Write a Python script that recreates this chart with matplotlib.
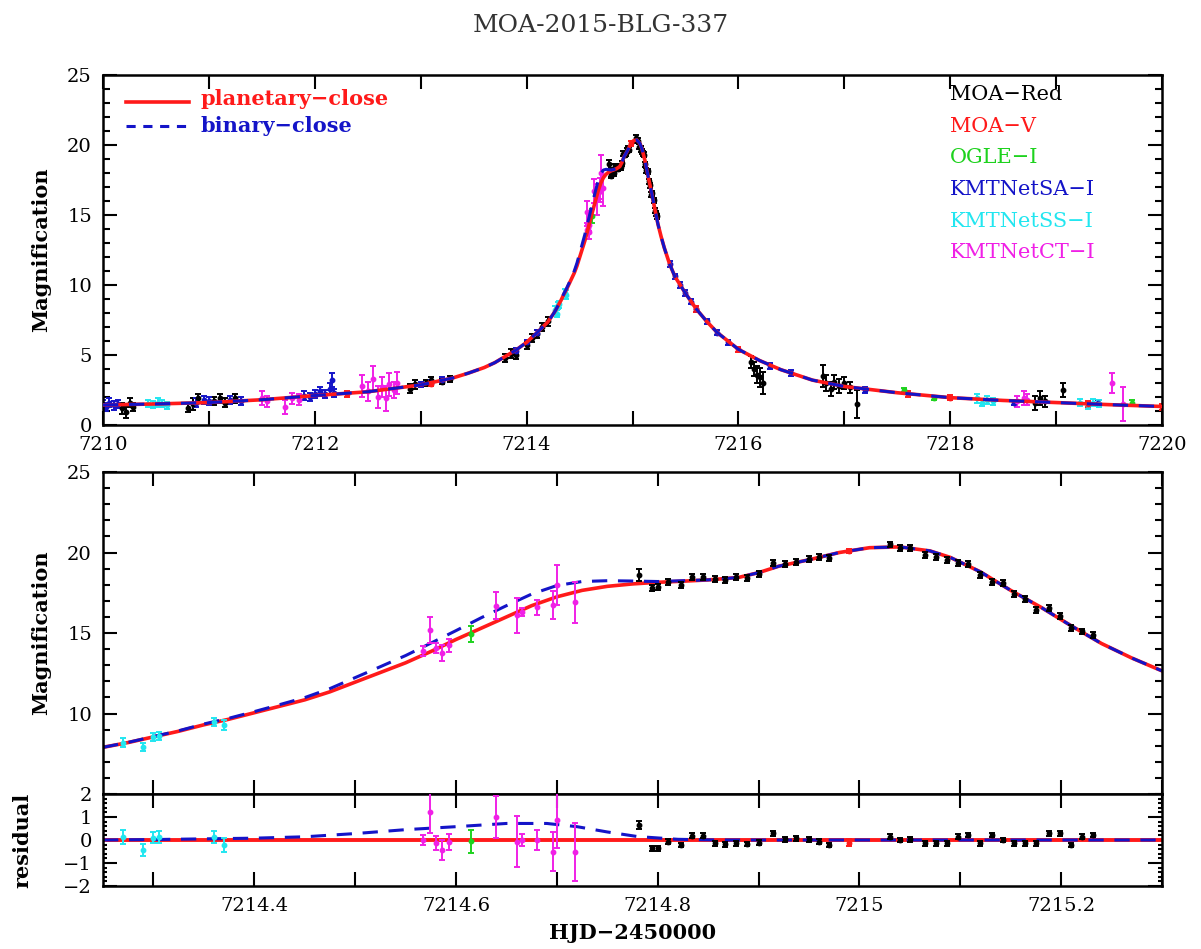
import numpy as np
import matplotlib.pyplot as plt
from matplotlib.ticker import MultipleLocator, FuncFormatter, FixedLocator

plt.rcParams['font.family'] = ['DejaVu Serif']
plt.rcParams['axes.unicode_minus'] = True

# ---------------- model curves ----------------
# left wing of the event (7210 - 7214.2)
model_left_t = [7210.0, 7210.5, 7211.0, 7211.5, 7212.0, 7212.5, 7213.0, 7213.3, 7213.45,
                7213.6, 7213.7, 7213.8, 7213.9, 7214.0, 7214.1, 7214.2]
model_left_A = [1.43, 1.5, 1.6, 1.8, 2.1, 2.37, 2.86, 3.35, 3.7, 4.1, 4.45, 4.9, 5.35, 5.9,
                6.6, 7.35]

# zoomed window (7214.25 - 7215.3)
model_win_t = [7214.25, 7214.275, 7214.30, 7214.325, 7214.35, 7214.375, 7214.40, 7214.425,
               7214.45, 7214.475, 7214.50, 7214.525, 7214.55, 7214.575, 7214.60, 7214.625,
               7214.65, 7214.675, 7214.70, 7214.725, 7214.75, 7214.775, 7214.80, 7214.825,
               7214.85, 7214.88, 7214.90, 7214.92, 7214.95, 7214.98, 7215.01, 7215.04,
               7215.07, 7215.09, 7215.12, 7215.15, 7215.18, 7215.21, 7215.24, 7215.27, 7215.30]
planet_win_A = [7.9, 8.2, 8.55, 8.9, 9.3, 9.65, 10.05, 10.45, 10.85, 11.35, 11.95, 12.55,
                13.15, 13.85, 14.6, 15.3, 16.0, 16.7, 17.25, 17.65, 17.9, 18.05, 18.15, 18.22,
                18.3, 18.45, 18.75, 19.15, 19.55, 20.0, 20.3, 20.35, 20.1, 19.7, 18.8, 17.65,
                16.6, 15.45, 14.35, 13.45, 12.65]
binary_win_A = [7.9, 8.21, 8.57, 8.93, 9.35, 9.71, 10.12, 10.55, 10.99, 11.55, 12.23, 12.91,
                13.6, 14.37, 15.15, 15.95, 16.7, 17.42, 17.95, 18.2, 18.25, 18.23, 18.2, 18.25,
                18.3, 18.45, 18.75, 19.15, 19.55, 20.0, 20.3, 20.35, 20.1, 19.7, 18.8, 17.65,
                16.6, 15.45, 14.35, 13.45, 12.65]

# right wing (7215.35 - 7220)
model_right_t = [7215.35, 7215.4, 7215.5, 7215.6, 7215.7, 7215.8, 7216.0, 7216.2, 7216.4,
                 7216.7, 7217.0, 7217.5, 7218.0, 7218.5, 7219.0, 7219.5, 7220.0]
model_right_A = [11.5, 10.6, 9.4, 8.3, 7.4, 6.6, 5.4, 4.6, 3.95, 3.2, 2.75, 2.3, 1.95, 1.75,
                 1.6, 1.45, 1.32]

# binary-close minus planetary-close (residual panel)
res_binary_t = [7214.25, 7214.30, 7214.35, 7214.40, 7214.45, 7214.50, 7214.55, 7214.60,
                7214.65, 7214.69, 7214.72, 7214.75, 7214.78, 7214.82, 7214.86, 7215.30]
res_binary = [0.0, 0.02, 0.05, 0.08, 0.14, 0.28, 0.45, 0.58, 0.72, 0.72, 0.58, 0.35, 0.15,
              0.03, 0.0, 0.0]

# ---------------- data inside the zoomed window ----------------
moa_red_win_t = [7214.781, 7214.794, 7214.80, 7214.81, 7214.823, 7214.834, 7214.845, 7214.857,
                 7214.867, 7214.878, 7214.889, 7214.90, 7214.914, 7214.926, 7214.937, 7214.95,
                 7214.96, 7214.97, 7215.03, 7215.04, 7215.05, 7215.065, 7215.076, 7215.087,
                 7215.098, 7215.108, 7215.12, 7215.131, 7215.142, 7215.153, 7215.164, 7215.175,
                 7215.188, 7215.199, 7215.21, 7215.221, 7215.232]
moa_red_win_A = [18.6, 17.8, 17.85, 18.17, 17.98, 18.48, 18.48, 18.35, 18.3, 18.48, 18.4, 18.67,
                 19.35, 19.28, 19.4, 19.6, 19.7, 19.66, 20.5, 20.3, 20.28, 19.85, 19.7, 19.53,
                 19.35, 19.28, 18.6, 18.17, 18.1, 17.4, 17.1, 16.43, 16.55, 16.05, 15.3, 15.1,
                 14.9]
moa_red_win_e = [0.35] + [0.18] * 36
moa_red_win_r = [0.65, -0.36, -0.36, -0.07, -0.21, 0.19, 0.19, -0.14, -0.19, -0.14, -0.17,
                 -0.11, 0.29, 0.03, 0.07, 0.03, -0.07, -0.21, 0.14, 0.0, 0.03, -0.14, -0.14,
                 -0.14, 0.14, 0.21, -0.14, 0.21, 0.0, -0.14, -0.14, -0.14, 0.29, 0.29, -0.21,
                 0.14, 0.21]
moa_red_win_re = [0.17] + [0.1] * 36

moa_v_win_t = [7214.99]
moa_v_win_A = [20.1]
moa_v_win_e = [0.15]
moa_v_win_r = [-0.11]
moa_v_win_re = [0.15]

ogle_win_t = [7214.615]
ogle_win_A = [14.95]
ogle_win_e = [0.5]
ogle_win_r = [-0.05]
ogle_win_re = [0.5]

kss_win_t = [7214.27, 7214.29, 7214.30, 7214.305, 7214.36, 7214.37]
kss_win_A = [8.2, 7.95, 8.55, 8.6, 9.45, 9.3]
kss_win_e = [0.3, 0.25, 0.25, 0.25, 0.25, 0.3]
kss_win_r = [0.14, -0.43, 0.1, 0.14, 0.14, -0.22]
kss_win_re = [0.3, 0.25, 0.25, 0.25, 0.25, 0.3]

kct_win_t = [7214.567, 7214.574, 7214.58, 7214.586, 7214.593, 7214.64, 7214.66, 7214.665,
             7214.68, 7214.696, 7214.70, 7214.718]
kct_win_A = [13.9, 15.2, 14.05, 13.75, 14.25, 16.7, 16.1, 16.3, 16.6, 16.75, 18.0, 16.9]
kct_win_e = [0.3, 0.8, 0.3, 0.5, 0.4, 0.85, 1.1, 0.25, 0.45, 0.85, 1.25, 1.3]
kct_win_r = [0.0, 1.2, -0.14, -0.43, -0.07, 1.0, -0.07, 0.0, 0.0, -0.5, 0.86, -0.53]
kct_win_re = [0.2, 0.9, 0.3, 0.45, 0.35, 0.9, 1.1, 0.25, 0.43, 0.85, 1.2, 1.25]

# ---------------- data outside the window (top panel only) ----------------
moa_red_t = [7210.18, 7210.22, 7210.25, 7210.28, 7210.80, 7210.85, 7210.90, 7211.05, 7211.10,
             7211.15, 7211.25, 7212.90, 7212.95, 7213.05, 7213.10, 7213.20, 7213.28, 7213.80,
             7213.85, 7213.90, 7214.00, 7214.05, 7214.10, 7214.15, 7214.20, 7216.12, 7216.15,
             7216.18, 7216.20, 7216.23, 7216.80, 7216.83, 7216.87, 7216.90, 7216.95, 7217.00,
             7217.05, 7217.12, 7218.80, 7218.85, 7218.90, 7219.07]
moa_red_A = [1.2, 0.9, 1.6, 1.3, 1.2, 1.5, 1.9, 1.7, 1.9, 1.6, 1.9, 2.6, 2.9, 3.0, 3.2, 3.1,
             3.3, 4.8, 5.1, 5.0, 5.7, 6.2, 6.5, 7.0, 7.4, 4.5, 4.0, 3.6, 3.4, 3.0, 3.5, 3.0,
             2.6, 3.1, 2.8, 3.0, 2.7, 1.5, 1.6, 1.9, 1.7, 2.5]
moa_red_e = [0.4, 0.4, 0.3, 0.3, 0.3, 0.4, 0.3, 0.3, 0.3, 0.3, 0.3, 0.3, 0.3, 0.2, 0.2, 0.2,
             0.2, 0.3, 0.3, 0.3, 0.3, 0.3, 0.3, 0.3, 0.3, 0.4, 0.5, 0.6, 0.7, 0.8, 0.8, 0.6,
             0.5, 0.5, 0.5, 0.4, 0.4, 1.0, 0.5, 0.5, 0.4, 0.5]

moa_v_t = [7212.3, 7213.1, 7215.6, 7216.0, 7217.6, 7218.0, 7219.3, 7220.0]
moa_v_A = [2.2, 2.95, 8.3, 5.4, 2.2, 1.95, 1.5, 1.3]
moa_v_e = [0.2, 0.2, 0.2, 0.2, 0.2, 0.2, 0.2, 0.2]

ogle_t = [7217.56, 7217.85, 7219.72]
ogle_A = [2.5, 1.95, 1.6]
ogle_e = [0.15, 0.15, 0.15]

ksa_t = [7210.0, 7210.03, 7210.06, 7210.1, 7210.14, 7210.88, 7210.95, 7211.0, 7211.2, 7211.3,
         7211.9, 7211.95, 7212.0, 7212.05, 7212.1, 7212.14, 7212.16, 7212.18, 7213.0, 7213.1,
         7213.2, 7213.9, 7214.0, 7214.1, 7215.35, 7215.4, 7215.45, 7215.5, 7215.55, 7215.6,
         7215.7, 7215.8, 7215.9, 7216.3, 7216.5, 7217.2, 7218.6, 7219.4]
ksa_A = [1.45, 1.3, 1.6, 1.4, 1.5, 1.6, 1.8, 1.7, 1.8, 1.7, 2.1, 2.0, 2.2, 2.4, 2.2, 2.6, 3.2,
         2.3, 2.9, 3.0, 3.2, 5.3, 5.9, 6.6, 11.5, 10.6, 10.0, 9.4, 8.8, 8.3, 7.4, 6.6, 5.9,
         4.2, 3.7, 2.5, 1.6, 1.55]
ksa_e = [0.3, 0.3, 0.3, 0.3, 0.3, 0.3, 0.3, 0.3, 0.3, 0.3, 0.3, 0.3, 0.3, 0.3, 0.3, 0.4, 0.5,
         0.3, 0.2, 0.2, 0.2, 0.2, 0.2, 0.2, 0.2, 0.2, 0.2, 0.2, 0.2, 0.2, 0.2, 0.2, 0.2, 0.2,
         0.2, 0.2, 0.2, 0.2]

kss_t = [7210.42, 7210.47, 7210.52, 7210.56, 7210.6, 7218.25, 7218.3, 7218.35, 7218.4,
         7219.23, 7219.3, 7219.35, 7219.41]
kss_A = [1.5, 1.45, 1.6, 1.5, 1.4, 1.9, 1.6, 1.8, 1.7, 1.6, 1.4, 1.6, 1.5]
kss_e = [0.25, 0.25, 0.3, 0.25, 0.25, 0.3, 0.25, 0.3, 0.25, 0.25, 0.25, 0.25, 0.25]

kct_t = [7211.5, 7211.55, 7211.72, 7211.78, 7211.85, 7212.45, 7212.5, 7212.55, 7212.6,
         7212.63, 7212.67, 7212.7, 7212.75, 7212.78, 7218.63, 7218.7, 7218.73, 7219.53, 7219.63]
kct_A = [1.9, 1.7, 1.3, 1.9, 1.8, 2.8, 2.4, 3.3, 2.0, 2.7, 1.9, 2.9, 2.5, 3.0, 1.7, 1.9, 1.8,
         3.0, 1.5]
kct_e = [0.5, 0.4, 0.5, 0.4, 0.4, 0.8, 0.7, 0.9, 0.8, 0.7, 0.9, 0.8, 0.6, 0.8, 0.4, 0.5, 0.4,
         0.7, 1.2]

# colours
c_black = 'black'
c_red = '#ff1a1a'
c_green = '#1ed21e'
c_blue = '#1414c8'
c_cyan = '#22e6f0'
c_mag = '#f020e6'
dash = (0, (5, 3.5))

fig = plt.figure(figsize=(12.01, 9.49), dpi=100)
ax1 = fig.add_axes([0.0858, 0.5522, 0.8817, 0.369])
ax2 = fig.add_axes([0.0858, 0.1633, 0.8817, 0.3393])
ax3 = fig.add_axes([0.0858, 0.0664, 0.8817, 0.0969])


def draw_points(ax, t, y, e, color, z=3):
    ax.errorbar(t, y, yerr=e, fmt='o', ms=3.2, color=color, ecolor=color,
                elinewidth=1.4, capsize=2.5, capthick=1.4, zorder=z)


# ---------- top panel ----------
draw_points(ax1, moa_red_t + moa_red_win_t, moa_red_A + moa_red_win_A, moa_red_e + moa_red_win_e, c_black, 2)
draw_points(ax1, ksa_t, ksa_A, ksa_e, c_blue, 2)
draw_points(ax1, kss_t + kss_win_t, kss_A + kss_win_A, kss_e + kss_win_e, c_cyan, 2)
draw_points(ax1, kct_t + kct_win_t, kct_A + kct_win_A, kct_e + kct_win_e, c_mag, 2)
draw_points(ax1, moa_v_t + moa_v_win_t, moa_v_A + moa_v_win_A, moa_v_e + moa_v_win_e, c_red, 2)
draw_points(ax1, ogle_t + ogle_win_t, ogle_A + ogle_win_A, ogle_e + ogle_win_e, c_green, 2)

planet_t = model_left_t + model_win_t + model_right_t
planet_A = model_left_A + planet_win_A + model_right_A
binary_A = model_left_A + binary_win_A + model_right_A
ax1.plot(planet_t, planet_A, color=c_red, lw=2.6, zorder=4)
ax1.plot(planet_t, binary_A, color=c_blue, lw=2.2, ls=dash, zorder=5)

ax1.set_xlim(7210, 7220)
ax1.set_ylim(0, 25)
ax1.xaxis.set_major_locator(MultipleLocator(1))
ax1.xaxis.set_major_formatter(FuncFormatter(lambda v, p: '%d' % round(v) if round(v) % 2 == 0 else ''))
ax1.yaxis.set_major_locator(MultipleLocator(5))
ax1.yaxis.set_minor_locator(MultipleLocator(1))
ax1.set_ylabel('Magnification', fontsize=15, fontweight='bold')
ax1.yaxis.set_label_coords(-0.049, 0.5)

# model legend
ax1.plot([0.022, 0.081], [0.923, 0.923], transform=ax1.transAxes, color=c_red, lw=2.6)
ax1.plot([0.022, 0.081], [0.854, 0.854], transform=ax1.transAxes, color=c_blue, lw=2.2, ls=(0, (3, 2.5)))
ax1.text(0.0925, 0.93, 'planetary\u2212close', transform=ax1.transAxes, color=c_red,
         fontsize=15, fontweight='bold', va='center')
ax1.text(0.0925, 0.855, 'binary\u2212close', transform=ax1.transAxes, color=c_blue,
         fontsize=15, fontweight='bold', va='center')

# data-set labels
set_names = ['MOA\u2212Red', 'MOA\u2212V', 'OGLE\u2212I', 'KMTNetSA\u2212I', 'KMTNetSS\u2212I', 'KMTNetCT\u2212I']
set_colors = [c_black, c_red, c_green, c_blue, c_cyan, c_mag]
for i, (name, col) in enumerate(zip(set_names, set_colors)):
    ax1.text(0.80, 0.943 - i * 0.0903, name, transform=ax1.transAxes, color=col,
             fontsize=15, va='center')

# ---------- middle panel ----------
ax2.plot(model_win_t, planet_win_A, color=c_red, lw=2.6, zorder=2)
ax2.plot(model_win_t, binary_win_A, color=c_blue, lw=2.2, ls=dash, zorder=2)
draw_points(ax2, moa_red_win_t, moa_red_win_A, moa_red_win_e, c_black)
draw_points(ax2, kss_win_t, kss_win_A, kss_win_e, c_cyan)
draw_points(ax2, kct_win_t, kct_win_A, kct_win_e, c_mag)
draw_points(ax2, ogle_win_t, ogle_win_A, ogle_win_e, c_green)
draw_points(ax2, moa_v_win_t, moa_v_win_A, moa_v_win_e, c_red)

ax2.set_xlim(7214.25, 7215.3)
ax2.set_ylim(5, 25)
ax2.yaxis.set_major_locator(FixedLocator([10, 15, 20, 25]))
ax2.yaxis.set_minor_locator(MultipleLocator(1))
ax2.set_ylabel('Magnification', fontsize=15, fontweight='bold')
ax2.yaxis.set_label_coords(-0.049, 0.5)
ax2.tick_params(axis='x', labelbottom=False)

# ---------- residual panel ----------
ax3.axhline(0, color=c_red, lw=2.8, zorder=2)
ax3.plot(res_binary_t, res_binary, color=c_blue, lw=2.2, ls=dash, zorder=2)
draw_points(ax3, moa_red_win_t, moa_red_win_r, moa_red_win_re, c_black)
draw_points(ax3, kss_win_t, kss_win_r, kss_win_re, c_cyan)
draw_points(ax3, kct_win_t, kct_win_r, kct_win_re, c_mag)
draw_points(ax3, ogle_win_t, ogle_win_r, ogle_win_re, c_green)
draw_points(ax3, moa_v_win_t, moa_v_win_r, moa_v_win_re, c_red)

ax3.set_xlim(7214.25, 7215.3)
ax3.set_ylim(-2, 2)
ax3.yaxis.set_major_locator(MultipleLocator(1))
ax3.yaxis.set_minor_locator(MultipleLocator(0.2))
ax3.set_ylabel('residual', fontsize=15, fontweight='bold')
ax3.yaxis.set_label_coords(-0.067, 0.5)
ax3.set_xlabel('HJD\u22122450000', fontsize=15, fontweight='bold', labelpad=6)

xt = [7214.3, 7214.4, 7214.5, 7214.6, 7214.7, 7214.8, 7214.9, 7215.0, 7215.1, 7215.2, 7215.3]
for ax in (ax2, ax3):
    ax.xaxis.set_major_locator(FixedLocator(xt))
ax3.xaxis.set_major_formatter(FuncFormatter(
    lambda v, p: ('%g' % round(v, 1)) if round(v * 10) % 2 == 0 else ''))

for ax in (ax1, ax2, ax3):
    ax.tick_params(which='both', direction='in', top=True, right=True, width=1.5)
    ax.tick_params(which='major', length=10, labelsize=14, pad=8)
    ax.tick_params(which='minor', length=5)
    for s in ax.spines.values():
        s.set_linewidth(1.8)
ax3.tick_params(which='minor', length=3)

fig.suptitle('MOA-2015-BLG-337', x=0.5, y=0.985, fontsize=18, color='#333333')

fig.savefig('out.png', dpi=100)
